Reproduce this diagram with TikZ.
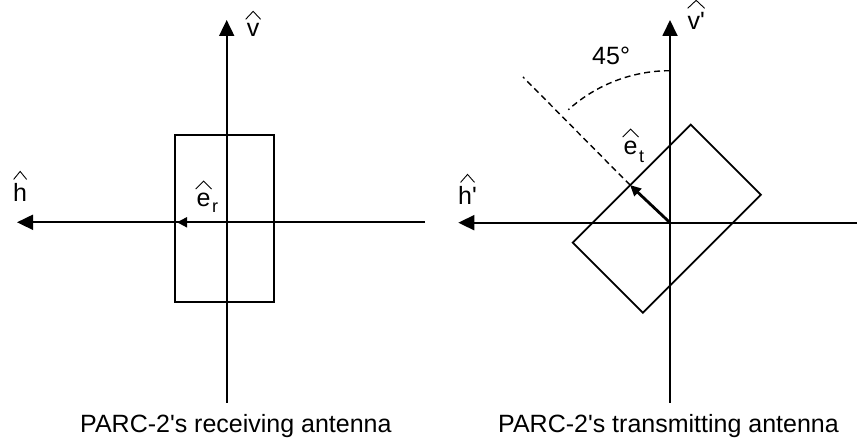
\documentclass[tikz,border=0pt]{standalone}
\usepackage{fontspec}
\setmainfont{Liberation Sans}[Ligatures=TeXOff]
\usetikzlibrary{arrows.meta}
\newcommand\hatl[2][15pt]{\leavevmode\vbox{\offinterlineskip\halign{\hfil##\hfil\cr
  \tikz\draw[line width=0.9pt,line join=miter] (0,0)--(#1/2,8pt)--(#1,0);\cr
  \noalign{\kern 4pt}#2\cr}}}
\newcommand\subl[2]{\raisebox{-#2}{\fontsize{18}{18}\selectfont #1}}
\begin{document}
\begin{tikzpicture}[x=1pt,y=1pt,
  axis/.style={line width=1.8pt,-{Triangle[length=16pt,width=15pt]}},
  vecr/.style={line width=1.8pt,-{Triangle[length=10pt,width=10pt]}},
  vect/.style={line width=2.8pt,-{Triangle[length=11pt,width=10pt]}},
  antenna/.style={draw,line width=1.8pt,inner sep=0pt,minimum width=99.3pt,minimum height=167pt},
  lab/.style={inner sep=0pt,anchor=base west,font=\fontsize{25}{30}\selectfont},
  guide/.style={line width=1.4pt,dash pattern=on 6pt off 4pt}]
\useasboundingbox (0,0) rectangle (857,443);
% ---------- left panel ----------
\coordinate (O1) at (226.7,220.7);
\coordinate (v1b) at (226.7,40);
\coordinate (v1t) at (226.7,423);
\coordinate (h1r) at (425,220.7);
\coordinate (h1l) at (17,220.7);
\coordinate (er) at (177,220.7);
\node[antenna] (rectL) at (224.35,224.5) {};
\draw[axis] (v1b) -- (v1t);
\draw[axis] (h1r) -- (h1l);
\draw[vecr] (O1) -- (er);
\node[lab] (lv) at (245,406) {\hatl{v}};
\node[lab] (lh) at (13,241) {\hatl[13pt]{h}};
\node[lab] (ler) at (195,236) {\hatl[16pt]{e}\subl{r}{6pt}};
\node[lab] (capL) at (80,10) {PARC-2's receiving antenna};
% ---------- right panel ----------
\coordinate (O2) at (670,220.3);
\coordinate (v2b) at (670,40);
\coordinate (v2t) at (670,423);
\coordinate (h2r) at (857,220.3);
\coordinate (h2l) at (458.3,220.3);
\coordinate (et) at (630,258);
\coordinate (dend) at (523,366);
\node[antenna,rotate=-45] (rectR) at (666.8,224.3) {};
\draw[axis] (v2b) -- (v2t);
\draw[axis] (h2r) -- (h2l);
\draw[guide] (et) -- (dend);
\draw[guide] (O2) ++(90:152) coordinate (arcs) arc[start angle=90,end angle=132,radius=152];
\draw[vect] (O2) -- (et);
\node[lab] (lv2) at (687,413) {\hatl[17pt]{v'}};
\node[lab] (lh2) at (458,238) {\hatl[14pt]{h'}};
\node[lab] (let) at (622,288) {\hatl[16pt]{e}\subl{t}{8pt}};
\node[lab] (l45) at (592,378) {45°};
\node[lab] (capR) at (498,10) {PARC-2's transmitting antenna};
\end{tikzpicture}
\end{document}
